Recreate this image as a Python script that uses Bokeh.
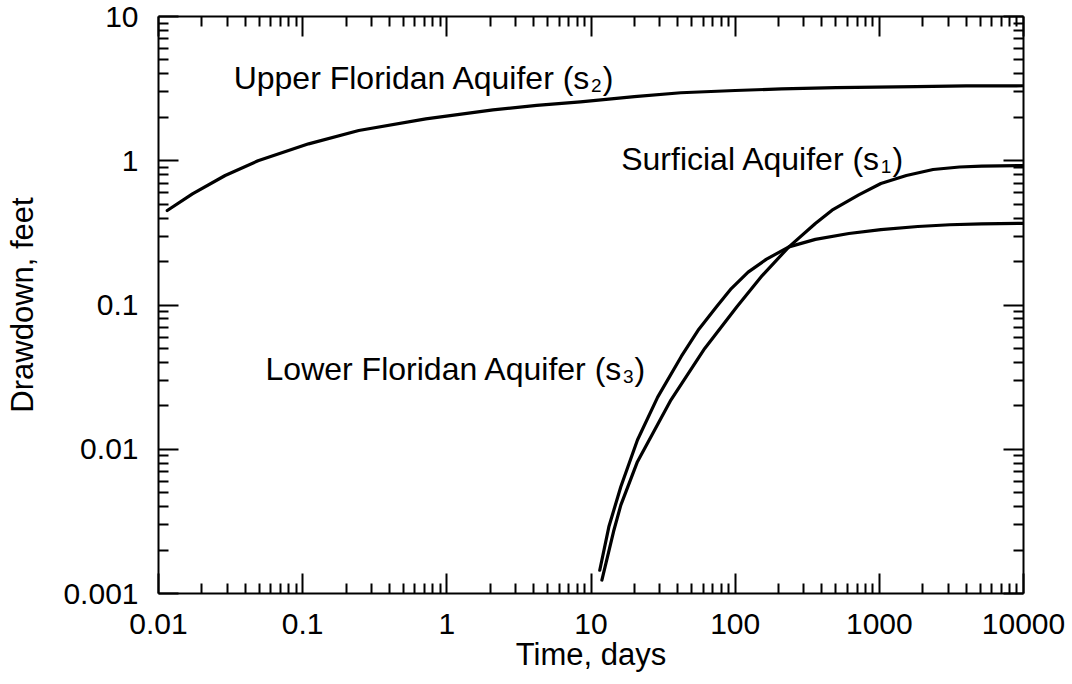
from bokeh.plotting import figure
from bokeh.models import LogAxis, FixedTicker, CustomJSTickFormatter, Label, ColumnDataSource
from bokeh.embed import file_html
from bokeh.resources import INLINE

# ---------------- data ----------------
x_ticks = [0.01, 0.1, 1, 10, 100, 1000, 10000]
x_tick_labels = ["0.01", "0.1", "1", "10", "100", "1000", "10000"]
y_ticks = [0.001, 0.01, 0.1, 1, 10]
y_tick_labels = ["0.001", "0.01", "0.1", "1", "10"]

# Upper Floridan Aquifer (s2)
upper_t = [0.0115, 0.0172, 0.029, 0.049, 0.11, 0.245, 0.715, 2.09, 4.2, 8.45, 20, 42, 100, 210, 500, 1800, 4000, 10000]
upper_s = [0.452, 0.59, 0.79, 1.0, 1.31, 1.62, 1.95, 2.25, 2.42, 2.56, 2.78, 2.96, 3.07, 3.15, 3.21, 3.27, 3.30, 3.31]

# Surficial Aquifer (s1)
surf_t = [11.9, 14.35, 16.1, 21, 35.9, 61.5, 102.5, 154, 236, 360, 470, 720, 1025, 1540, 2360, 3600, 5125, 10000]
surf_s = [0.00124, 0.0027, 0.0041, 0.0082, 0.022, 0.05, 0.097, 0.16, 0.253, 0.367, 0.454, 0.58, 0.695, 0.79, 0.87, 0.905, 0.918, 0.925]

# Lower Floridan Aquifer (s3)
lower_t = [11.5, 13.3, 16.1, 21, 29, 42.3, 56, 74, 94, 123, 164, 236, 360, 615, 1025, 1850, 3075, 5125, 10000]
lower_s = [0.00145, 0.0029, 0.0055, 0.0116, 0.023, 0.044, 0.068, 0.097, 0.13, 0.169, 0.207, 0.253, 0.285, 0.313, 0.333, 0.35, 0.36, 0.365, 0.368]

x_title = "Time, days"
y_title = "Drawdown, feet"

# ---------------- styling ----------------
FONT = "Liberation Sans"
TICK_FS = 30
TITLE_FS = 31
FS = 32
SUB_FS = 19

p = figure(width=1072, height=684, x_axis_type="log", y_axis_type="log",
           x_range=(0.01, 10000), y_range=(0.001, 10),
           output_backend="svg", toolbar_location=None,
           min_border_left=158, min_border_right=49,
           min_border_top=16, min_border_bottom=91)
p.grid.visible = False
p.outline_line_color = None
p.background_fill_color = "white"
p.border_fill_color = "white"


def minors(lo, hi):
    out = []
    for d in range(lo, hi):
        for k in range(2, 10):
            out.append(k * 10.0 ** d)
    return out


x_minor = minors(-2, 4)
y_minor = minors(-3, 1)


def fmt(tick_vals, tick_labels):
    return CustomJSTickFormatter(args=dict(tv=tick_vals, tl=tick_labels), code="""
        for (let i = 0; i < tv.length; i++) {
            if (Math.abs(Math.log10(tv[i]) - Math.log10(tick)) < 1e-6) return tl[i];
        }
        return '';
    """)


def style(ax, tick_vals, minor, tick_labels=None):
    ax.ticker = FixedTicker(ticks=tick_vals, minor_ticks=minor)
    ax.axis_line_width = 2
    ax.axis_line_color = "black"
    ax.major_tick_in = 20
    ax.major_tick_out = 0
    ax.minor_tick_in = 10
    ax.minor_tick_out = 0
    ax.major_tick_line_width = 2
    ax.minor_tick_line_width = 2
    ax.major_tick_line_color = "black"
    ax.minor_tick_line_color = "black"
    if tick_labels is None:
        ax.formatter = CustomJSTickFormatter(code="return '';")
        ax.major_label_text_font_size = "0px"
        ax.major_label_standoff = 0
    else:
        ax.formatter = fmt(tick_vals, tick_labels)
        ax.major_label_text_font = FONT
        ax.major_label_text_font_size = f"{TICK_FS}px"
        ax.major_label_text_color = "black"
        ax.axis_label_text_font = FONT
        ax.axis_label_text_font_size = f"{TITLE_FS}px"
        ax.axis_label_text_font_style = "normal"
        ax.axis_label_text_color = "black"


style(p.xaxis[0], x_ticks, x_minor, x_tick_labels)
p.xaxis[0].axis_label = x_title
p.xaxis[0].major_label_standoff = 20
p.xaxis[0].axis_label_standoff = 0

style(p.yaxis[0], y_ticks, y_minor, y_tick_labels)
p.yaxis[0].axis_label = y_title
p.yaxis[0].major_label_standoff = 20
p.yaxis[0].axis_label_standoff = 20

top = LogAxis()
style(top, x_ticks, x_minor)
p.add_layout(top, "above")
right = LogAxis()
style(right, y_ticks, y_minor)
p.add_layout(right, "right")

for t, s in ((upper_t, upper_s), (surf_t, surf_s), (lower_t, lower_s)):
    src = ColumnDataSource(dict(t=t, s=s))
    p.line("t", "s", source=src, line_color="black", line_width=3.2,
           line_join="round", line_cap="round")

# ---------------- curve labels with subscripts ----------------
ARIAL = {" ": 278, "(": 333, ")": 333, "A": 667, "F": 611, "L": 556, "S": 667, "U": 722,
         "a": 556, "c": 500, "d": 556, "e": 556, "f": 278, "i": 222, "l": 222, "n": 556,
         "o": 556, "p": 556, "q": 556, "r": 333, "s": 500, "u": 556, "w": 722,
         "1": 556, "2": 556, "3": 556}


def tw(s, size):
    return sum(ARIAL.get(c, 556) for c in s) * size / 1000.0


def sub_label(x, y, main, sub):
    base = main + " (s"
    w1 = tw(base, FS)
    w2 = tw(sub, SUB_FS)
    common = dict(x=x, y=y, x_units="data", y_units="data", text_font=FONT,
                  text_color="black", text_baseline="alphabetic", text_align="left")
    p.add_layout(Label(text=base, text_font_size=f"{FS}px", **common))
    p.add_layout(Label(text=sub, text_font_size=f"{SUB_FS}px", x_offset=w1, y_offset=-8, **common))
    p.add_layout(Label(text=")", text_font_size=f"{FS}px", x_offset=w1 + w2 + 1, **common))


sub_label(0.0332, 3.76, "Upper Floridan Aquifer", "2")
sub_label(16.2, 1.03, "Surficial Aquifer", "1")
sub_label(0.0553, 0.0361, "Lower Floridan Aquifer", "3")

open("out.html", "w").write(file_html(p, INLINE))
